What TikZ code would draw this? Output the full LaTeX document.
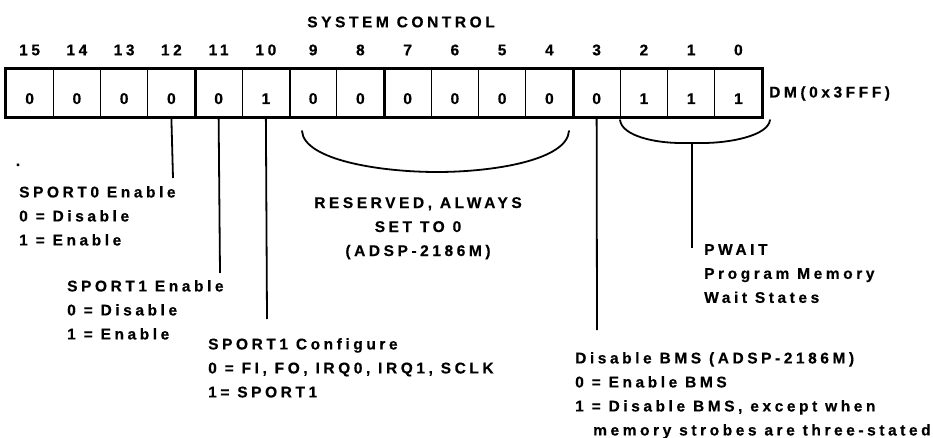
\documentclass[tikz,border=0pt]{standalone}
\usepackage{fontspec}
\newfontfamily\regfont{Liberation Sans}[LetterSpace=23,FakeBold=0.5]

\begin{document}
\begin{tikzpicture}[x=1pt,y=-1pt,
  every node/.style={font=\regfont\bfseries\fontsize{15.5}{24}\selectfont,inner sep=0pt},
  cellbox/.style={draw,line width=1.4pt,minimum width=47.25pt,minimum height=48pt,text height=22pt,text depth=0pt},
  lbl/.style={anchor=north west,align=left},
  leader/.style={line width=1.8pt},
  brace/.style={line width=1.8pt,line cap=round}]
  \useasboundingbox (0,0) rectangle (933,438);

  \node (title) at (401,22) {SYSTEM CONTROL};
  \foreach \b/\v in {15/0,14/0,13/0,12/0,11/0,10/1,9/0,8/0,7/0,6/0,5/0,4/0,3/0,2/1,1/1,0/1} {
    \node[cellbox] (c\b) at ({29.625+47.25*(15-\b)},93) {\v};
    \node (n\b) at ({29.625+47.25*(15-\b)},50) {\b};
  }
  \foreach \b in {12,10,8,4} \draw[line width=2.4pt] (c\b.north east) -- (c\b.south east);
  \draw[line width=2pt] (c15.north west) rectangle (c0.south east);
  \node[anchor=base west] (addr) at (769,97.5) {DM(0x3FFF)};

  \node[anchor=base] (dot) at (18,166) {.};
  \node[lbl] (en0) at (19,186) {SPORT0 Enable\\0 = Disable\\1 = Enable};
  \node[lbl] (en1) at (67,280) {SPORT1 Enable\\0 = Disable\\1 = Enable};
  \node[lbl] (cfg1) at (208,338) {SPORT1 Configure\\0 = FI, FO, IRQ0, IRQ1, SCLK\\1= SPORT1};
  \node[anchor=north,align=center] (rsv) at (418,197) {RESERVED, ALWAYS\\SET TO 0\\(ADSP-2186M)};
  \node[lbl] (bms) at (575,352) {Disable BMS (ADSP-2186M)\\0 = Enable BMS\\1 = Disable BMS, except when\\\hspace*{18pt}memory strobes are three-stated};
  \node[lbl] (pwait) at (704,244) {PWAIT\\Program Memory\\Wait States};

  \coordinate (e12) at (173,178);
  \coordinate (e11) at (220,273);
  \coordinate (e10) at (267,319);
  \coordinate (e3) at (597,330);
  \coordinate (tip) at (692,143);
  \coordinate (e0) at (692,248);
  \draw[leader] (c12.south) -- (e12);
  \draw[leader] (c11.south) -- (e11);
  \draw[leader] (c10.south) -- (e10);
  \draw[leader] (c3.south) -- (e3);
  \draw[leader] (tip) -- (e0);

  \draw[brace] (302,131) .. controls (304,160) and (380,172) .. (437,172) .. controls (494,172) and (567,160) .. (569,131);
  \draw[brace] (620,120) .. controls (622,136) and (655,143) .. (681,143) -- (703,143) .. controls (729,143) and (768,136) .. (770,120);
\end{tikzpicture}
\end{document}
